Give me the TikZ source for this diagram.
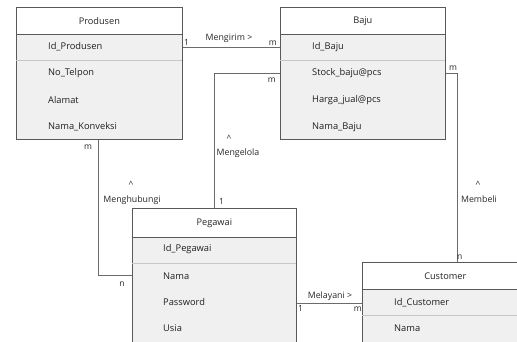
\documentclass[tikz,border=0pt]{standalone}
\usepackage{fontspec}
\setmainfont{Open Sans}
\begin{document}
\begin{tikzpicture}[x=1pt,y=-1pt,
  entbody/.style={draw=black!65, fill=black!6, line width=0.7pt, inner sep=0pt, anchor=north west},
  enthead/.style={draw=black!65, fill=white, line width=0.7pt, inner sep=0pt, anchor=north west, minimum height=27pt, font=\fontsize{9.2}{11}\selectfont, text=black!85},
  attr/.style={anchor=west, inner sep=0pt, font=\fontsize{9.3}{11}\selectfont, text=black!88},
  rowline/.style={draw=black!22, line width=0.6pt},
  rel/.style={draw=black!58, line width=0.8pt},
  lbl/.style={inner sep=0pt, font=\fontsize{8.8}{10.5}\selectfont, text=black!85},
  card/.style={inner sep=0pt, font=\fontsize{8.5}{10}\selectfont, text=black!85}]
\useasboundingbox (0,0) rectangle (517,341);
\clip (0,0) rectangle (517,341);

% Produsen
\node[entbody, minimum width=166pt, minimum height=132pt] (prod) at (16,7) {};
\node[enthead, minimum width=166pt] (prodH) at (16,7) {Produsen};
\draw[rowline] (16,60) -- (182,60);
\node[attr] (prodA1) at (48,47) {Id\_Produsen};
\node[attr] (prodA2) at (48,73) {No\_Telpon};
\node[attr] (prodA3) at (48,100) {Alamat};
\node[attr] (prodA4) at (48,127) {Nama\_Konveksi};

% Baju
\node[entbody, minimum width=165pt, minimum height=132pt] (baju) at (280,7) {};
\node[enthead, minimum width=165pt] (bajuH) at (280,7) {Baju};
\draw[rowline] (280,60) -- (445,60);
\node[attr] (bajuA1) at (312,47) {Id\_Baju};
\node[attr] (bajuA2) at (312,73) {Stock\_baju@pcs};
\node[attr] (bajuA3) at (312,100) {Harga\_jual@pcs};
\node[attr] (bajuA4) at (312,127) {Nama\_Baju};

% Pegawai
\node[entbody, minimum width=164pt, minimum height=190pt] (peg) at (132,208) {};
\node[enthead, minimum width=164pt, minimum height=29pt] (pegH) at (132,208) {Pegawai};
\draw[rowline] (132,263) -- (296,263);
\node[attr] (pegA1) at (163,249) {Id\_Pegawai};
\node[attr] (pegA2) at (163,276) {Nama};
\node[attr] (pegA3) at (163,302) {Password};
\node[attr] (pegA4) at (163,328) {Usia};

% Customer
\node[entbody, minimum width=166pt, minimum height=140pt] (cust) at (362,262) {};
\node[enthead, minimum width=166pt] (custH) at (362,262) {Customer};
\draw[rowline] (362,315) -- (528,315);
\node[attr] (custA1) at (394,303) {Id\_Customer};
\node[attr] (custA2) at (394,328) {Nama};

% corner points of the bent connectors
\coordinate (kelola) at (214,73);
\coordinate (hubung) at (98,275);
\coordinate (beli) at (457,73);

% Mengirim
\draw[rel] (prodA1 -| prod.east) -- (prodA1 -| baju.west);
\node[lbl, anchor=base] (tMengirim) at (229,40) {Mengirim >};
\node[card, anchor=base west] (c1a) at (184,45) {1};
\node[card, anchor=base east] (c1b) at (277,45) {m};

% Mengelola
\draw[rel] (bajuA2 -| baju.west) -- (kelola) -- (kelola |- peg.north);
\node[card, anchor=base east] (c2a) at (276,82) {m};
\node[lbl, anchor=base] (tMengelolaA) at (229,141) {\^{}};
\node[lbl, anchor=base] (tMengelola) at (238,155) {Mengelola};
\node[card, anchor=base west] (c2b) at (219,204) {1};

% Menghubungi
\draw[rel] (hubung |- prod.south) -- (hubung) -- (hubung -| peg.west);
\node[card, anchor=base] (c3a) at (88,149) {m};
\node[lbl, anchor=base] (tHubungA) at (131,187) {\^{}};
\node[lbl, anchor=base] (tHubung) at (132,202) {Menghubungi};
\node[card, anchor=base] (c3b) at (122,286) {n};

% Melayani
\draw[rel] (peg.east |- custA1) -- (cust.west |- custA1);
\node[lbl, anchor=base] (tMelayani) at (330,298) {Melayani >};
\node[card, anchor=base west] (c4a) at (298,311) {1};
\node[card, anchor=base east] (c4b) at (362,311) {m};

% Membeli
\draw[rel] (bajuA2 -| baju.east) -- (beli) -- (beli |- cust.north);
\node[card, anchor=base] (c5a) at (453,70) {m};
\node[lbl, anchor=base] (tBeliA) at (478,187) {\^{}};
\node[lbl, anchor=base] (tBeli) at (479,202) {Membeli};
\node[card, anchor=base west] (c5b) at (457,259) {n};
\end{tikzpicture}
\end{document}
